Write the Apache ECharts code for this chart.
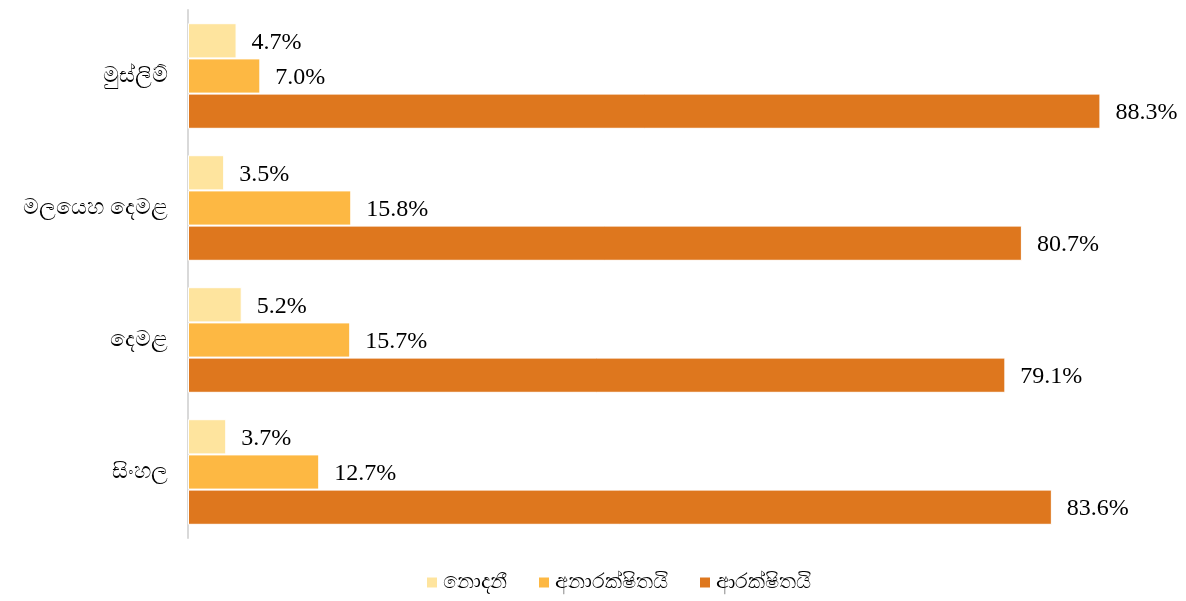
<!DOCTYPE html>
<html><head><meta charset="utf-8">
<script src="https://cdn.jsdelivr.net/npm/echarts@6/dist/echarts.min.js"></script>
<style>html,body{margin:0;padding:0;background:#fff}#c{width:1186px;height:601px}</style>
</head><body><div id="c"></div>
<script>
const categories = ['සිංහල', 'දෙමළ', 'මලයෙහ දෙමළ', 'මුස්ලිම්'];
const seriesNames = ['නොදනී', 'අනාරක්ෂිතයි', 'ආරක්ෂිතයි'];
const dontKnow = [3.7, 5.2, 3.5, 4.7];
const unsafe = [12.7, 15.7, 15.8, 7.0];
const safe = [83.6, 79.1, 80.7, 88.3];
const colors = ['#FEE49E', '#FDB843', '#DE771E'];

const chart = echarts.init(document.getElementById('c'));
const labelStyle = {show: true, position: 'right', distance: 15, offset: [0, 2], color: '#000', fontFamily: 'Liberation Serif', fontSize: 24, formatter: p => p.value.toFixed(1) + '%'};
function mk(name, data, color) {
  return {name, type: 'bar', data, barGap: '0%', barCategoryGap: '20%',
    itemStyle: {color, borderColor: '#fff', borderWidth: 1}, label: labelStyle};
}
chart.setOption({
  animation: false,
  grid: {left: 188, right: 68, top: 10, bottom: 63, containLabel: false},
  legend: {data: seriesNames, bottom: 3, left: 420, icon: 'rect', itemWidth: 12, itemHeight: 12, itemGap: 30,
    textStyle: {color: '#000', fontSize: 21, fontFamily: 'Noto Sans'}},
  xAxis: {type: 'value', min: 0, max: 90, show: false},
  yAxis: {type: 'category', data: categories, axisTick: {show: false},
    axisLine: {lineStyle: {color: '#d9d9d9', width: 2}},
    axisLabel: {color: '#000', fontSize: 22, margin: 20, fontFamily: 'Noto Sans'}},
  series: [mk(seriesNames[0], dontKnow, colors[0]), mk(seriesNames[1], unsafe, colors[1]), mk(seriesNames[2], safe, colors[2])]
});
</script></body></html>
